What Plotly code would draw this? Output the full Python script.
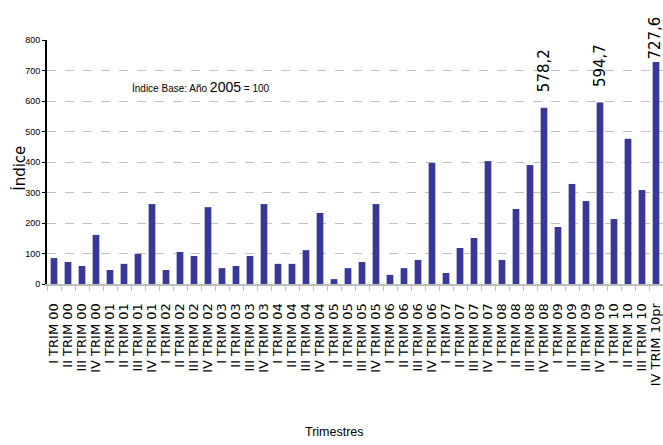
import plotly.graph_objects as go

quarters = ["I", "II", "III", "IV"]
years = ["00", "01", "02", "03", "04", "05", "06", "07", "08", "09", "10"]
categories = [f"{q} TRIM {y}" for y in years for q in quarters]
categories[-1] = "IV TRIM 10pr"

values = [85, 72, 59, 161, 46, 66, 99, 262, 46, 105, 92, 252,
          52, 59, 92, 262, 66, 66, 111, 233, 16, 52, 72, 262,
          30, 52, 79, 397, 36, 118, 151, 403, 79, 246, 390, 578.2,
          187, 328, 272, 594.7, 213, 476, 308, 727.6]

labelled = {"IV TRIM 08": "578,2", "IV TRIM 09": "594,7", "IV TRIM 10pr": "727,6"}
label_shift = {"IV TRIM 08": (13, 0), "IV TRIM 09": (13, 0), "IV TRIM 10pr": (0, -1)}

y_ticks = [0, 100, 200, 300, 400, 500, 600, 700, 800]

NARROW = "Liberation Sans Narrow, Arial Narrow, Liberation Sans, Arial"
WIDE = "DejaVu Sans, Verdana, sans-serif"

fig = go.Figure()
fig.add_trace(go.Bar(
    x=categories, y=values,
    marker=dict(color="#38389a", line=dict(width=0)),
    width=0.48,
))

annotations = []
for cat, txt in labelled.items():
    v = values[categories.index(cat)]
    ys, xs = label_shift[cat]
    annotations.append(dict(
        x=cat, y=v, xref="x", yref="y", text=txt, textangle=-90,
        showarrow=False, yanchor="bottom", xanchor="center",
        yshift=ys, xshift=xs,
        font=dict(family=WIDE, size=15, color="#000000"),
    ))

annotations.append(dict(
    x=-0.046, y=0.475, xref="paper", yref="paper", text="Índice",
    textangle=-90, showarrow=False, xanchor="center", yanchor="middle",
    font=dict(family=WIDE, size=15, color="#000000"),
))
annotations.append(dict(
    x=0.4675, y=-0.607, xref="paper", yref="paper", text="Trimestres",
    showarrow=False, xanchor="center", yanchor="middle",
    font=dict(family=NARROW, size=12.5, color="#000000"),
))
annotations.append(dict(
    x=0.1347, y=0.807, xref="paper", yref="paper",
    text="Índice Base: Año <span style='font-size:14px'>2005</span> = 100",
    showarrow=False, xanchor="left", yanchor="middle",
    font=dict(family=NARROW, size=10, color="#000000"),
))

fig.update_layout(
    width=663, height=445,
    margin=dict(l=47, r=0, t=40, b=161, autoexpand=False),
    paper_bgcolor="white", plot_bgcolor="white",
    showlegend=False,
    bargap=0.5,
    annotations=annotations,
    shapes=[dict(
        type="rect", xref="paper", yref="paper", layer="between",
        x0=(127 - 47) / 616, x1=(360 - 47) / 616,
        y0=(284 - 98) / 244, y1=(284 - 62) / 244,
        fillcolor="white", line=dict(width=0),
    )],
    xaxis=dict(
        type="category",
        automargin=False,
        tickangle=-90,
        tickmode="array", tickvals=categories, ticktext=categories,
        tickson="boundaries",
        ticks="outside", ticklen=5, tickcolor="#c0c0c0", tickwidth=1,
        showline=True, linecolor="#bdbdbd", linewidth=2,
        showgrid=False,
        tickfont=dict(family=WIDE, size=13, color="#000000"),
        ticklabelstandoff=12,
        range=[-0.5, 43.5],
    ),
    yaxis=dict(
        automargin=False,
        range=[0, 800],
        tickvals=y_ticks,
        ticks="outside", ticklen=3, tickcolor="#000000", tickwidth=1,
        showline=True, linecolor="#000000", linewidth=2,
        showgrid=True, gridcolor="#c0c0c0", griddash="dash", gridwidth=1,
        zeroline=False,
        tickfont=dict(family=NARROW, size=9, color="#000000"),
    ),
)

fig.write_html(
    "out.html",
    config={"displayModeBar": False},
    post_script="document.body.style.margin='0';document.body.style.overflow='hidden';",
)
